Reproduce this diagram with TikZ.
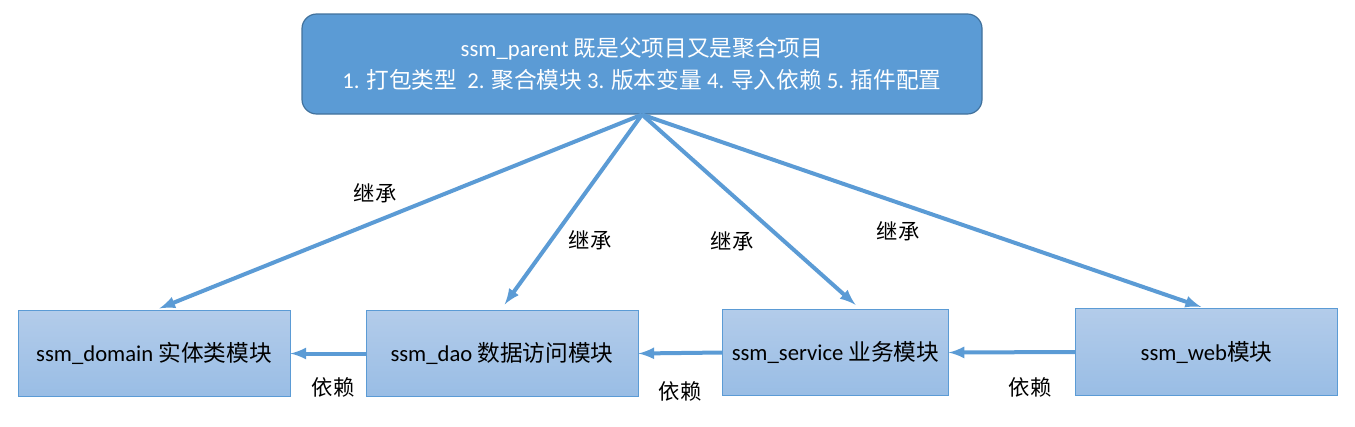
\documentclass[tikz,border=0pt]{standalone}
\usepackage{fontspec}
\setmainfont{Carlito}
\newfontfamily\cjk{Noto Sans CJK SC}
\usetikzlibrary{positioning}
\definecolor{parentblue}{HTML}{5B9BD5}
\definecolor{parentedge}{HTML}{41719C}
\definecolor{modtop}{HTML}{B3CCEA}
\definecolor{modbot}{HTML}{99BDE5}
\tikzset{>=latex}
\tikzset{
  parent/.style={draw=parentedge,fill=parentblue,rounded corners=11pt,line width=0.9pt,
    minimum width=510pt,minimum height=75pt,text=white,align=center,font=\fontsize{17}{24}\selectfont},
  module/.style={draw=parentblue,top color=modtop,bottom color=modbot,line width=0.6pt,
    minimum height=65pt,font=\fontsize{17}{20}\selectfont},
  link/.style={->,draw=parentblue,line width=3pt},
  tag/.style={font=\cjk\fontsize{16}{18}\selectfont}
}

\begin{document}
\begin{tikzpicture}[x=0.75pt,y=-0.75pt]
\useasboundingbox (0,0) rectangle (1355,426);
\node[parent] (P) at (642,64) {ssm\_parent {\cjk 既是父项目又是聚合项目}\\1. {\cjk 打包类型}\ \ 2. {\cjk 聚合模块} 3. {\cjk 版本变量} 4. {\cjk 导入依赖} 5. {\cjk 插件配置}};
\node[module,minimum width=204pt] (dom) at (154,353.5) {ssm\_domain {\cjk 实体类模块}};
\node[module,minimum width=204pt] (dao) at (502,353.5) {ssm\_dao {\cjk 数据访问模块}};
\node[module,minimum width=169pt] (svc) at (835.5,352.5) {ssm\_service {\cjk 业务模块}};
\node[module,minimum width=197pt] (web) at (1206.5,352) {ssm\_web{\cjk 模块}};
% inheritance
\draw[link] (P.south) -- ([xshift=4pt,yshift=1pt]dom.north);
\draw[link] (P.south) -- ([xshift=2pt,yshift=4pt]dao.north);
\draw[link] (P.south) -- ([xshift=15pt,yshift=3pt]svc.north);
\draw[link] (P.south) -- ([xshift=-4pt,yshift=1pt]web.north);
\node[tag] (t1) at (375,193) {继承};
\node[tag] (t2) at (590,240) {继承};
\node[tag] (t3) at (732,241) {继承};
\node[tag] (t4) at (898,231) {继承};
% dependencies
\draw[link] (dao.west) -- (dom.east);
\draw[link] (svc.west) -- (dao.east);
\draw[link] (web.west) -- (svc.east);
\node[tag] (d1) at (333,387) {依赖};
\node[tag] (d2) at (680,391) {依赖};
\node[tag] (d3) at (1030,387) {依赖};
\end{tikzpicture}
\end{document}
